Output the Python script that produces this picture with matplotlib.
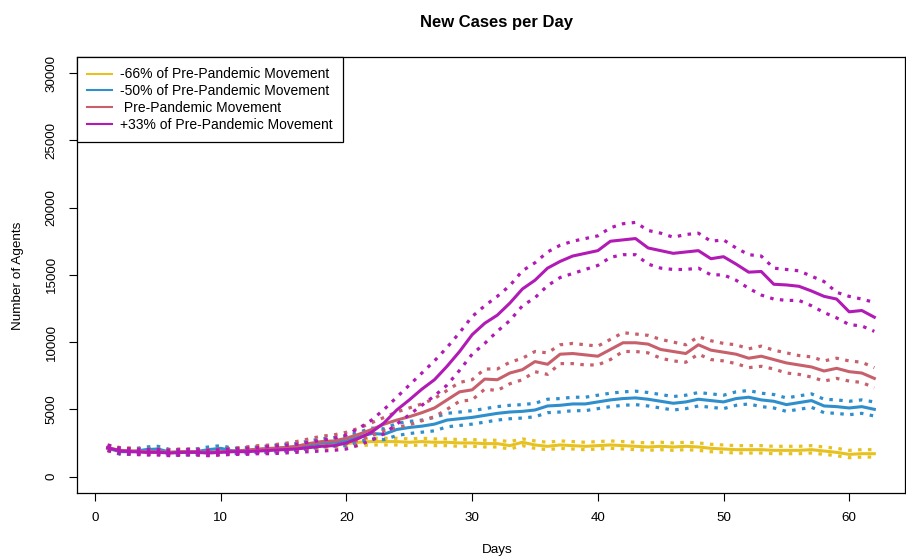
import numpy as np
import matplotlib
matplotlib.use("Agg")
import matplotlib.pyplot as plt

plt.rcParams['font.family'] = ['Liberation Sans', 'DejaVu Sans']

days = np.arange(1, 63)

# -66% of pre-pandemic movement
yel_mean = [2150, 1950, 1900, 1850, 1850, 1800, 1850, 1800, 1800, 1850,
            1900, 1950, 2000, 2050, 2100, 2150, 2250, 2350, 2400, 2450,
            2550, 2600, 2600, 2600, 2550, 2600, 2550, 2550, 2500, 2500,
            2450, 2450, 2300, 2550, 2350, 2250, 2350, 2300, 2250, 2300,
            2350, 2300, 2250, 2200, 2250, 2200, 2250, 2200, 2100, 2050,
            2000, 2000, 2000, 1950, 1950, 1950, 2000, 1900, 1800, 1650,
            1700, 1700]
yel_hi = [2350, 2150, 2100, 2050, 2050, 2000, 2050, 2000, 2000, 2050,
          2100, 2150, 2200, 2250, 2300, 2400, 2500, 2600, 2650, 2700,
          2800, 2850, 2850, 2850, 2800, 2850, 2800, 2800, 2750, 2750,
          2700, 2700, 2600, 2800, 2650, 2550, 2650, 2600, 2550, 2600,
          2650, 2600, 2550, 2500, 2550, 2500, 2550, 2500, 2400, 2350,
          2300, 2300, 2300, 2250, 2250, 2250, 2300, 2200, 2100, 1950,
          2000, 2000]
yel_lo = [1950, 1750, 1700, 1650, 1650, 1600, 1650, 1600, 1600, 1650,
          1700, 1750, 1800, 1850, 1900, 1900, 2000, 2100, 2150, 2200,
          2300, 2350, 2350, 2350, 2300, 2350, 2300, 2300, 2250, 2250,
          2200, 2200, 2050, 2300, 2100, 2000, 2100, 2050, 2000, 2050,
          2100, 2050, 2000, 1950, 2000, 1950, 2000, 1950, 1850, 1800,
          1750, 1750, 1750, 1700, 1700, 1700, 1750, 1650, 1550, 1400,
          1450, 1450]

# -50% of pre-pandemic movement
blue_mean = [2100, 1850, 1850, 2000, 2050, 1800, 1800, 1850, 2000, 2100,
             1900, 1950, 2000, 2050, 2150, 2200, 2350, 2500, 2550, 2650,
             2950, 3200, 3150, 3500, 3650, 3750, 3900, 4200, 4300, 4400,
             4550, 4700, 4800, 4850, 4950, 5250, 5300, 5400, 5400, 5550,
             5700, 5800, 5850, 5750, 5600, 5450, 5550, 5750, 5650, 5550,
             5800, 5900, 5700, 5600, 5350, 5500, 5650, 5250, 5200, 5100,
             5200, 5000]
blue_hi = [2250, 2050, 2050, 2200, 2250, 2000, 2000, 2050, 2200, 2300,
           2100, 2150, 2200, 2300, 2400, 2450, 2650, 2800, 2900, 3000,
           3300, 3600, 3550, 3950, 4100, 4200, 4400, 4700, 4800, 4900,
           5050, 5200, 5300, 5350, 5450, 5750, 5800, 5900, 5900, 6050,
           6200, 6300, 6350, 6250, 6100, 5950, 6050, 6250, 6150, 6050,
           6300, 6400, 6200, 6100, 5850, 6000, 6150, 5750, 5700, 5600,
           5700, 5550]
blue_lo = [1950, 1650, 1650, 1800, 1850, 1600, 1600, 1650, 1800, 1900,
           1700, 1750, 1800, 1800, 1900, 1950, 2050, 2200, 2250, 2300,
           2600, 2800, 2750, 3050, 3200, 3300, 3400, 3700, 3800, 3900,
           4050, 4200, 4300, 4350, 4450, 4750, 4800, 4900, 4900, 5050,
           5200, 5300, 5350, 5250, 5100, 4950, 5050, 5250, 5150, 5050,
           5300, 5400, 5200, 5100, 4850, 5000, 5150, 4750, 4700, 4600,
           4700, 4500]

# pre-pandemic movement
pink_mean = [2100, 1950, 1900, 1850, 1850, 1800, 1850, 1850, 1800, 1850,
             1900, 1950, 2050, 2100, 2150, 2250, 2450, 2600, 2650, 2850,
             3150, 3500, 3900, 4200, 4450, 4750, 5100, 5700, 6300, 6450,
             7250, 7200, 7700, 7950, 8550, 8350, 9100, 9150, 9050, 8950,
             9450, 9950, 9950, 9850, 9450, 9300, 9150, 9800, 9400, 9250,
             9100, 8800, 8950, 8700, 8450, 8300, 8150, 7850, 8050, 7800,
             7700, 7300]
pink_hi = [2300, 2150, 2100, 2050, 2050, 2000, 2050, 2050, 2000, 2050,
           2100, 2200, 2300, 2350, 2450, 2600, 2800, 3000, 3100, 3300,
           3600, 4000, 4400, 4800, 5100, 5400, 5800, 6400, 7000, 7200,
           8000, 8000, 8500, 8800, 9300, 9200, 9800, 9900, 9800, 9700,
           10200, 10700, 10600, 10500, 10200, 10000, 9800, 10400, 10100, 9900,
           9800, 9500, 9700, 9400, 9200, 9000, 8900, 8600, 8800, 8600,
           8500, 8100]
pink_lo = [1900, 1750, 1700, 1650, 1650, 1600, 1650, 1650, 1600, 1650,
           1700, 1750, 1800, 1850, 1900, 1950, 2100, 2250, 2300, 2450,
           2700, 3050, 3400, 3650, 3850, 4150, 4450, 5000, 5600, 5700,
           6500, 6400, 6900, 7200, 7800, 7600, 8400, 8400, 8300, 8300,
           8700, 9300, 9300, 9200, 8800, 8600, 8500, 9100, 8700, 8600,
           8400, 8100, 8200, 8000, 7700, 7600, 7400, 7100, 7300, 7100,
           7000, 6600]

# +33% of pre-pandemic movement
mag_mean = [2150, 1900, 1850, 1800, 1800, 1750, 1800, 1800, 1750, 1800,
            1850, 1850, 1900, 1950, 2000, 2050, 2150, 2250, 2300, 2500,
            2850, 3300, 4000, 4950, 5700, 6500, 7200, 8200, 9300, 10550,
            11400, 12000, 12900, 13950, 14600, 15500, 16000, 16400, 16600, 16800,
            17500, 17600, 17700, 17000, 16800, 16600, 16700, 16800, 16200, 16350,
            15800, 15200, 15250, 14300, 14250, 14150, 13800, 13400, 13200, 12250,
            12350, 11850]
mag_hi = [2350, 2100, 2050, 2000, 2000, 1950, 2000, 2000, 1950, 2000,
          2050, 2100, 2150, 2250, 2300, 2400, 2550, 2700, 2850, 3100,
          3600, 4200, 5000, 5900, 6800, 7700, 8600, 9600, 10700, 11900,
          12700, 13400, 14200, 15300, 15900, 16700, 17200, 17500, 17700, 17900,
          18500, 18800, 18900, 18300, 18100, 17800, 18000, 18100, 17500, 17600,
          17000, 16500, 16400, 15500, 15400, 15300, 14900, 14500, 13700, 13400,
          13200, 12950]
mag_lo = [1950, 1700, 1650, 1600, 1600, 1550, 1600, 1600, 1550, 1600,
          1650, 1650, 1700, 1700, 1750, 1800, 1850, 1900, 1950, 2050,
          2350, 2700, 3200, 3900, 4600, 5300, 6000, 6800, 7900, 9100,
          9900, 10800, 11600, 12700, 13300, 14200, 14800, 15100, 15400, 15700,
          16300, 16500, 16500, 15800, 15500, 15400, 15400, 15500, 15000, 15000,
          14600, 14000, 13500, 13200, 13100, 13100, 12700, 12200, 11800, 11300,
          11200, 10800]

labels = ["-66% of Pre-Pandemic Movement", "-50% of Pre-Pandemic Movement",
          " Pre-Pandemic Movement", "+33% of Pre-Pandemic Movement"]
colors = ['#E6C120', '#2F8FCC', '#C8606C', '#B11AB5']
series = [(yel_mean, yel_hi, yel_lo), (blue_mean, blue_hi, blue_lo),
          (pink_mean, pink_hi, pink_lo), (mag_mean, mag_hi, mag_lo)]

fig = plt.figure(figsize=(9.06, 5.6), dpi=100)
ax = fig.add_axes([77 / 906, 1 - 492.7 / 560, (905 - 77) / 906, (492.7 - 57) / 560])

for (m, hi, lo), c in zip(series, colors):
    ax.plot(days, lo, color=c, lw=2.3, linestyle=(0, (1.1, 2.0)))
    ax.plot(days, hi, color=c, lw=2.3, linestyle=(0, (1.1, 2.0)))
    ax.plot(days, m, color=c, lw=2.2)

ax.set_xlim(-1.44, 64.44)
ax.set_ylim(-1200, 31200)
ax.set_xticks(range(0, 61, 10))
ax.set_yticks(range(0, 30001, 5000))
ax.tick_params(axis='both', direction='out', length=6, width=0.8, labelsize=9.6)
ax.tick_params(axis='x', pad=8)
ax.tick_params(axis='y', pad=8, labelrotation=90)
for lab in ax.get_yticklabels():
    lab.set_va('center')
for s in ax.spines.values():
    s.set_linewidth(0.9)

fig.text(18 / 906, 1 - 276 / 560, "Number of Agents", rotation=90,
         ha='center', va='center', fontsize=9.7)
fig.text(497 / 906, 1 - 550 / 560, "Days", ha='center', va='center', fontsize=9.7)
fig.text(496 / 906, 1 - 22 / 560, "New Cases per Day", ha='center', va='center',
         fontsize=12, fontweight='bold')

leg_lines = [plt.Line2D([], [], color=c, lw=1.5) for c in colors]
leg = ax.legend(leg_lines, labels, loc='upper left', bbox_to_anchor=(0, 1),
                borderaxespad=0, fancybox=False, edgecolor='black', framealpha=1,
                fontsize=10, handlelength=1.8, labelspacing=0.2,
                handletextpad=0.55, borderpad=0.75)
leg.get_frame().set_linewidth(0.9)

fig.savefig("out.png", dpi=100)
